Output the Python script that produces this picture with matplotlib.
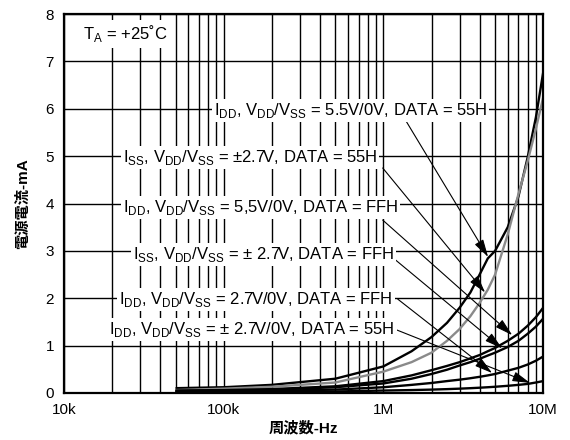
#! /usr/bin/env python3
"""
Supply current vs frequency (log x), six curves with leader arrows
"""

import matplotlib
matplotlib.use("Agg")
import matplotlib.pyplot as plt
from matplotlib import rcParams as rc

# frequency points (Hz)
freq = [50e3, 100e3, 200e3, 500e3, 1e6, 1.5e6, 2e6, 2.5e6, 3e6, 3.5e6,
        4e6, 4.5e6, 5e6, 6e6, 7e6, 8e6, 9e6, 10e6]
# supply current in mA
idd_55v_55h = [0.10, 0.12, 0.17, 0.30, 0.56, 0.88, 1.18, 1.48, 1.80, 2.12,
               2.50, 2.84, 3.00, 3.50, 4.15, 4.98, 5.82, 6.77]
iss_27v_55h = [0.06, 0.09, 0.13, 0.22, 0.45, 0.65, 0.85, 1.10, 1.35, 1.62,
               1.90, 2.18, 2.50, 3.35, 4.20, 4.90, 5.58, 6.24]
idd_55v_ffh = [0.05, 0.06, 0.08, 0.14, 0.25, 0.37, 0.48, 0.57, 0.65, 0.73,
               0.80, 0.88, 0.95, 1.10, 1.25, 1.42, 1.60, 1.80]
iss_27v_ffh = [0.04, 0.05, 0.07, 0.12, 0.20, 0.30, 0.40, 0.49, 0.58, 0.65,
               0.72, 0.79, 0.85, 0.97, 1.10, 1.25, 1.40, 1.57]
idd_27v_ffh = [0.03, 0.035, 0.045, 0.07, 0.12, 0.17, 0.21, 0.25, 0.28,
               0.31, 0.34, 0.37, 0.40, 0.47, 0.53, 0.60, 0.68, 0.77]
idd_pm27v_55h = [0.02, 0.02, 0.025, 0.03, 0.05, 0.06, 0.07, 0.08, 0.09,
                 0.10, 0.11, 0.12, 0.13, 0.15, 0.17, 0.19, 0.22, 0.25]

series = [idd_55v_55h, iss_27v_55h, idd_55v_ffh,
          iss_27v_ffh, idd_27v_ffh, idd_pm27v_55h]
series_colours = ["black", "#8a8a8a", "black", "black", "black", "black"]

x_ticks = [1e4, 1e5, 1e6, 1e7]
x_tick_labels = ["10k", "100k", "1M", "10M"]
y_ticks = [0, 1, 2, 3, 4, 5, 6, 7, 8]

sub = r"$_\mathregular{%s}$"
label_texts = [
    f"I{sub % 'DD'}, V{sub % 'DD'}/V{sub % 'SS'} = 5.5V/0V, DATA = 55H",
    f"I{sub % 'SS'}, V{sub % 'DD'}/V{sub % 'SS'} = \u00b12.7V, DATA = 55H",
    f"I{sub % 'DD'}, V{sub % 'DD'}/V{sub % 'SS'} = 5,5V/0V, DATA = FFH",
    f"I{sub % 'SS'}, V{sub % 'DD'}/V{sub % 'SS'} = \u00b1 2.7V, DATA = FFH",
    f"I{sub % 'DD'}, V{sub % 'DD'}/V{sub % 'SS'} = 2.7V/0V, DATA = FFH",
    f"I{sub % 'DD'}, V{sub % 'DD'}/V{sub % 'SS'} = \u00b1 2.7V/0V, DATA = 55H",
]
# text anchor (left edge, line centre), arrow start and arrow tip
label_xy = [(86.5e3, 6.0), (23.3e3, 5.0), (23.3e3, 3.95),
            (27.0e3, 2.95), (22.3e3, 2.0), (19.3e3, 1.37)]
arrow_from = [(1.22e6, 6.05), (0.99e6, 4.75), (0.99e6, 3.65),
              (1.15e6, 2.85), (1.23e6, 1.98), (1.13e6, 1.37)]
arrow_to = [(4.52e6, 2.87), (4.33e6, 2.12), (6.4e6, 1.22),
            (5.53e6, 0.94), (4.79e6, 0.42), (8.28e6, 0.21)]


def main():
    rc["font.family"] = ["Liberation Sans", "Noto Sans CJK JP"]
    rc["font.size"] = 11
    fig = plt.figure(figsize=(5.7, 4.4), dpi=100)
    ax = fig.add_axes([0.112, 0.107, 0.841, 0.861])
    for values, colour in zip(series, series_colours):
        ax.plot(freq, values, color=colour, linewidth=1.7, zorder=3,
                solid_capstyle="butt")
    ax.set_xscale("log")
    ax.set_xlim(1e4, 1e7)
    ax.set_ylim(0, 8)
    ax.set_xticks(x_ticks)
    ax.set_xticklabels(x_tick_labels)
    ax.set_yticks(y_ticks)
    ax.tick_params(which="both", length=0, labelsize=11)
    ax.tick_params(axis="x", pad=7)
    ax.tick_params(axis="y", pad=7)
    ax.grid(which="both", axis="x", color="black", linewidth=1.0)
    ax.grid(which="major", axis="y", color="black", linewidth=1.0)
    ax.set_axisbelow(True)
    for spine in ax.spines.values():
        spine.set_linewidth(1.6)
        spine.set_zorder(6)
    for start, tip in zip(arrow_from, arrow_to):
        ax.annotate(
            "", xy=tip, xytext=start, zorder=4,
            arrowprops=dict(arrowstyle="-|>,head_length=0.9,head_width=0.25",
                            color="black", lw=0.8, mutation_scale=12,
                            shrinkA=0, shrinkB=0)
        )
    for text, (x, y) in zip(label_texts, label_xy):
        ax.text(x, y - 0.13, text, ha="left", va="baseline", fontsize=12,
                zorder=5,
                bbox=dict(facecolor="white", edgecolor="none", pad=1.5))
    ax.text(1.31e4, 7.6 - 0.13, "T$_\\mathregular{A}$ = +25\u02daC",
            ha="left", va="baseline", fontsize=12, zorder=5,
            bbox=dict(facecolor="white", edgecolor="none", pad=2.5))
    ax.set_xlabel("周波数-Hz", fontsize=11, fontweight="bold", labelpad=3)
    ax.set_ylabel("電源電流-mA", fontsize=11, fontweight="bold", labelpad=11)
    fig.savefig("out.png", dpi=100)


if __name__ == "__main__":
    main()
